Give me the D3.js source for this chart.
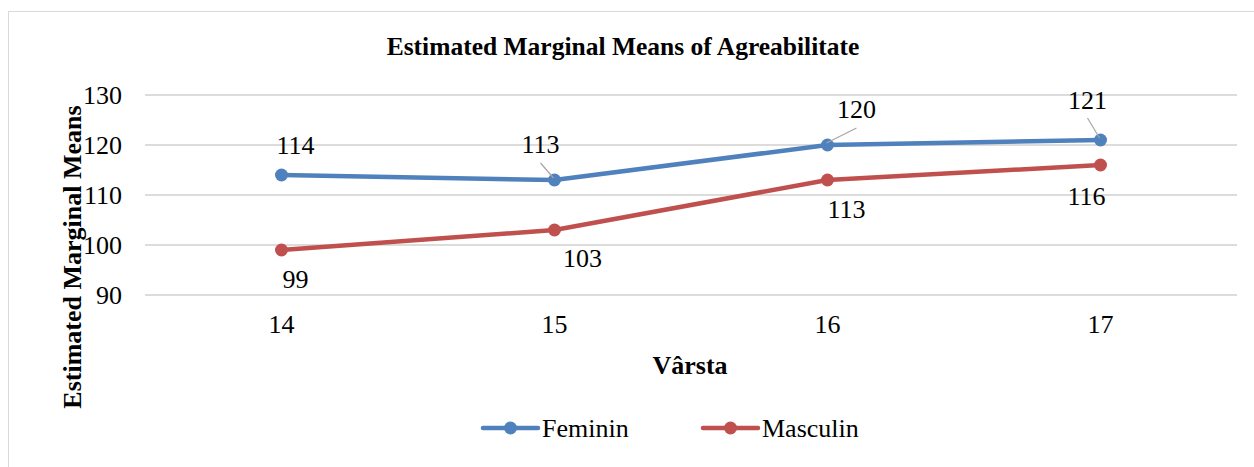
<!DOCTYPE html>
<html>
<head>
<meta charset="utf-8">
<script src="https://cdn.jsdelivr.net/npm/d3@7"></script>
<style>
  body { margin: 0; background: #fff; }
</style>
</head>
<body>
<div id="chart"></div>
<script>
// data
const ages = ["14", "15", "16", "17"];
const feminin = [114, 113, 120, 121];
const masculin = [99, 103, 113, 116];
const yTicks = [90, 100, 110, 120, 130];
const seriesNames = ["Feminin", "Masculin"];

const width = 1254, height = 467;
const plot = {left: 145, right: 1237, top: 95, bottom: 295};
const FONT = "'Liberation Serif'";
const FS = "26px";

const svg = d3.select("#chart").append("svg")
    .attr("width", width)
    .attr("height", height);

// outer chart border
svg.append("rect")
    .attr("x", 8.5).attr("y", 11.5)
    .attr("width", 1260).attr("height", 470)
    .attr("fill", "none")
    .attr("stroke", "#d9d9d9");

const x = d3.scaleBand().domain(ages).range([plot.left, plot.right]);
const y = d3.scaleLinear().domain([90, 130]).range([plot.bottom, plot.top]);
const cx = d => x(d) + x.bandwidth() / 2;

// gridlines
svg.append("g").selectAll("line")
  .data(yTicks)
  .enter().append("line")
    .attr("x1", plot.left).attr("x2", plot.right)
    .attr("y1", d => y(d)).attr("y2", d => y(d))
    .attr("stroke", "#d0d0d0")
    .attr("stroke-width", 1.3);

// y tick labels
svg.append("g").selectAll("text")
  .data(yTicks)
  .enter().append("text")
    .attr("x", 122)
    .attr("y", d => y(d) + 9)
    .attr("text-anchor", "end")
    .style("font-family", FONT)
    .style("font-size", FS)
    .text(d => d);

// x tick labels
svg.append("g").selectAll("text")
  .data(ages)
  .enter().append("text")
    .attr("x", d => cx(d))
    .attr("y", 333)
    .attr("text-anchor", "middle")
    .style("font-family", FONT)
    .style("font-size", FS)
    .text(d => d);

// titles
svg.append("text")
    .attr("x", 623).attr("y", 55)
    .attr("text-anchor", "middle")
    .style("font-family", FONT)
    .style("font-size", "25.5px")
    .style("font-weight", "bold")
    .text("Estimated Marginal Means of Agreabilitate");

svg.append("text")
    .attr("x", 690).attr("y", 374)
    .attr("text-anchor", "middle")
    .style("font-family", FONT)
    .style("font-size", FS)
    .style("font-weight", "bold")
    .text("Vârsta");

svg.append("text")
    .attr("transform", "translate(81,257) rotate(-90)")
    .attr("text-anchor", "middle")
    .style("font-family", FONT)
    .style("font-size", FS)
    .style("font-weight", "bold")
    .text("Estimated Marginal Means");

const colors = ["#4f81bd", "#c0504d"];
const series = [feminin, masculin];

// label placement (offsets from the point, as moved in the original)
const labelOffsets = [
  [[14, -21], [-14, -27], [29, -27], [-13, -31]],
  [[14, 38], [28, 37], [19, 38], [-14, 40]]
];
// leader lines: [series, index, from-dx, from-dy]
const leaders = [[0, 1, -14, -17], [0, 2, 29, -17], [0, 3, -13, -22]];

const line = d3.line()
    .x((d, i) => cx(ages[i]))
    .y(d => y(d));

series.forEach((vals, s) => {
  const g = svg.append("g");
  g.append("path")
      .datum(vals)
      .attr("d", line)
      .attr("fill", "none")
      .attr("stroke", colors[s])
      .attr("stroke-width", 4.5)
      .attr("stroke-linejoin", "round");
  g.selectAll("circle")
    .data(vals)
    .enter().append("circle")
      .attr("cx", (d, i) => cx(ages[i]))
      .attr("cy", d => y(d))
      .attr("r", 6.5)
      .attr("fill", colors[s]);
});

// leader lines
svg.append("g").selectAll("line")
  .data(leaders)
  .enter().append("line")
    .attr("x1", d => cx(ages[d[1]]) + d[2])
    .attr("y1", d => y(series[d[0]][d[1]]) + d[3])
    .attr("x2", d => cx(ages[d[1]]) - 1)
    .attr("y2", d => y(series[d[0]][d[1]]) - 2)
    .attr("stroke", "#a6a6a6")
    .attr("stroke-width", 1.2);

series.forEach((vals, s) => {
  svg.append("g").selectAll("text")
    .data(vals)
    .enter().append("text")
      .attr("x", (d, i) => cx(ages[i]) + labelOffsets[s][i][0])
      .attr("y", (d, i) => y(d) + labelOffsets[s][i][1])
      .attr("text-anchor", "middle")
      .style("font-family", FONT)
      .style("font-size", FS)
      .text(d => d);
});

// legend
const legendX = [483, 703];
const legend = svg.append("g").selectAll("g")
  .data(seriesNames)
  .enter().append("g")
    .attr("transform", (d, i) => `translate(${legendX[i]},428)`);
legend.append("line")
    .attr("x1", 0).attr("x2", 55)
    .attr("stroke", (d, i) => colors[i])
    .attr("stroke-width", 4.5)
    .attr("stroke-linecap", "round");
legend.append("circle")
    .attr("cx", 27.5).attr("r", 6.5)
    .attr("fill", (d, i) => colors[i]);
legend.append("text")
    .attr("x", 59).attr("y", 9)
    .style("font-family", FONT)
    .style("font-size", FS)
    .text(d => d);
</script>
</body>
</html>
